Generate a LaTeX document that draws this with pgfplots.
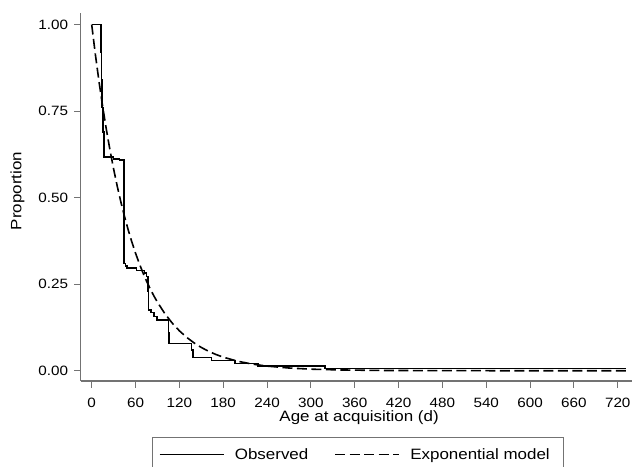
\documentclass[border=0pt]{standalone}
\usepackage{fontspec}
\setmainfont[FakeStretch=1.13]{Liberation Sans}
\usepackage{pgfplots}
\pgfplotsset{compat=1.18}
\definecolor{axgray}{RGB}{115,115,115}
\begin{document}
\begin{tikzpicture}[x=1bp,y=1bp]
\begin{axis}[
  at={(80.7bp,86bp)}, anchor=south west,
  scale only axis, width=551.3bp, height=368.3bp,
  xmin=-15.06, xmax=739.5, ymin=-0.0297, ymax=1.0343,
  axis x line*=bottom, axis y line*=left,
  axis line style={axgray, line width=1.1bp},
  tick align=outside, major tick length=6.5bp,
  tick style={axgray, line width=1.1bp},
  xtick={0,60,...,720}, ytick={0,0.25,0.5,0.75,1},
  yticklabels={0.00,0.25,0.50,0.75,1.00},
  /pgf/number format/assume math mode=true,
  ticklabel style={font=\fontsize{13.5bp}{16bp}\selectfont, inner sep=0pt},
  xticklabel style={anchor=base, yshift=-19.5bp},
  yticklabel style={anchor=east, xshift=-6bp},
  xlabel={Age at acquisition (d)}, ylabel={Proportion},
  label style={font=\fontsize{15bp}{18bp}\selectfont, inner sep=0pt},
  xlabel style={at={(axis description cs:0.505,-0.1113)}, anchor=base},
  ylabel style={at={(axis description cs:-0.1146,0.516)}, anchor=center},
  legend columns=2,
  legend image code/.code={\draw[#1, line width=1.5bp] (0bp,0bp) -- (64bp,0bp);},
  legend style={at={(axis description cs:0.1288,-0.1512)}, anchor=north west,
    draw=axgray, line width=1.1bp, inner xsep=6.6bp, inner ysep=11bp,
    font=\fontsize{15bp}{18bp}\selectfont,
    nodes={inner sep=0pt},
    /tikz/every odd column/.style={column sep=10.5bp},
    /tikz/column 2/.style={column sep=26bp}},
]
\addplot[const plot, black, line width=1.6bp] coordinates {
(0,1.000) (12.5,0.920) (13.5,0.840) (14.5,0.760) (15.5,0.690) (16.5,0.617)
(30,0.612) (38,0.608) (44,0.310) (46,0.302) (48,0.297) (61.5,0.290)
(72,0.282) (75,0.272) (77,0.230) (78,0.175) (81,0.168) (85,0.157) (89,0.147)
(105,0.110) (106,0.079) (136.5,0.060) (138.5,0.038) (164,0.030) (196,0.021)
(228,0.0135) (319,0.006) (731,0.006)
};
\addplot[black, line width=1.6bp, dash pattern=on 10bp off 4.5bp] coordinates {
(0,1.0000) (5,0.9139) (10,0.8353) (15,0.7634) (20,0.6977) (25,0.6376)
(30,0.5827) (35,0.5326) (40,0.4868) (45,0.4449) (50,0.4066) (55,0.3716)
(60,0.3396) (65,0.3104) (70,0.2837) (75,0.2592) (80,0.2369) (85,0.2165)
(90,0.1979) (100,0.1653) (110,0.1381) (120,0.1153) (130,0.0963) (140,0.0805)
(150,0.0672) (160,0.0561) (170,0.0469) (180,0.0392) (200,0.0273) (220,0.0191)
(240,0.0133) (270,0.0078) (300,0.0045) (340,0.0022) (400,0.0007) (500,0.0001)
(600,0.0000) (731,0.0000)
};
\legend{Observed, Exponential model\rule{7bp}{0pt}}
\end{axis}
\pgfresetboundingbox
\path[use as bounding box] (0,0) rectangle (634bp,467bp);
\end{tikzpicture}
\end{document}
